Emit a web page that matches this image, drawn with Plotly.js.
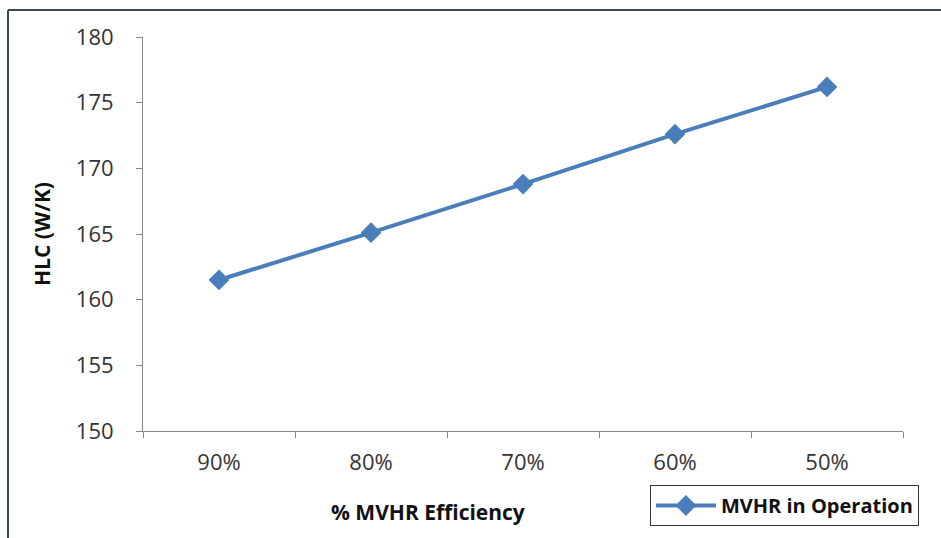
<!DOCTYPE html>
<html>
<head>
<meta charset="utf-8">
<script src="https://cdn.plot.ly/plotly-3.0.1.min.js"></script>
<style>
html,body{margin:0;padding:0;background:#fff;}
#chart{width:941px;height:538px;}
</style>
</head>
<body>
<div id="chart"></div>
<script>
const categories = ["90%", "80%", "70%", "60%", "50%"];
const hlcValues = [161.5, 165.1, 168.8, 172.6, 176.2];
const seriesName = "MVHR in Operation";
const yTicks = [150, 155, 160, 165, 170, 175, 180];

const trace = {
  x: categories,
  y: hlcValues,
  type: "scatter",
  mode: "lines+markers",
  name: seriesName,
  line: {color: "#4A7EBB", width: 4},
  marker: {symbol: "diamond", size: 16, color: "#4A7EBB"}
};

const layout = {
  width: 941,
  height: 538,
  margin: {l: 143, r: 38, t: 37, b: 107},
  paper_bgcolor: "#ffffff",
  plot_bgcolor: "#ffffff",
  font: {family: "Open Sans, Liberation Sans, sans-serif", color: "#333333"},
  showlegend: true,
  xaxis: {
    type: "category",
    range: [-0.5, 4.5],
    tickson: "boundaries",
    ticks: "outside",
    ticklen: 6,
    tickcolor: "#888888",
    showline: true,
    linecolor: "#888888",
    linewidth: 1,
    showgrid: false,
    zeroline: false,
    ticklabelstandoff: 12,
    tickfont: {size: 22, color: "#333333"}
  },
  yaxis: {
    range: [150, 180],
    tickvals: yTicks,
    ticks: "outside",
    ticklen: 6,
    tickcolor: "#888888",
    showline: true,
    linecolor: "#888888",
    linewidth: 1,
    showgrid: false,
    zeroline: false,
    ticklabelstandoff: 18,
    tickfont: {size: 22, color: "#333333"},
    title: {text: "HLC (W/K)", font: {size: 21, color: "#111111", family: "Open Sans, sans-serif", weight: "bold"}, standoff: 19}
  },
  legend: {
    x: 0.667, y: -0.137, xanchor: "left", yanchor: "top",
    xref: "paper", yref: "paper",
    bordercolor: "#333333", borderwidth: 1,
    bgcolor: "#ffffff",
    font: {size: 20, color: "#111111", family: "Open Sans, sans-serif", weight: "bold"},
    itemwidth: 60
  },
  annotations: [{
    text: "% MVHR Efficiency",
    xref: "paper", yref: "paper",
    x: (428 - 143) / 760, y: (431 - 512) / 394,
    xanchor: "center", yanchor: "middle",
    showarrow: false,
    font: {size: 21, color: "#111111", family: "Open Sans, sans-serif", weight: "bold"}
  }],
  shapes: [
    {type: "line", xref: "paper", yref: "paper", x0: (8 - 143) / 760, x1: (941 - 143) / 760, y0: (431 - 10) / 394, y1: (431 - 10) / 394, line: {color: "#3a4a55", width: 2}},
    {type: "line", xref: "paper", yref: "paper", x0: (8 - 143) / 760, x1: (8 - 143) / 760, y0: (431 - 10) / 394, y1: (431 - 538) / 394, line: {color: "#3a4a55", width: 2}}
  ]
};

Plotly.newPlot("chart", [trace], layout, {displayModeBar: false, staticPlot: true});
</script>
</body>
</html>
